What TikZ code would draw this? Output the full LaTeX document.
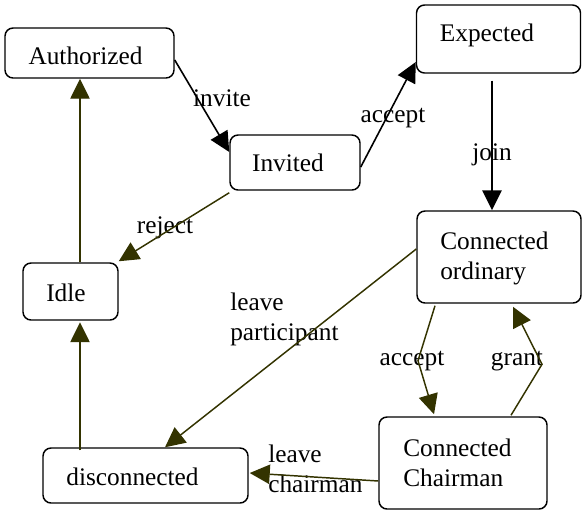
\documentclass[tikz,border=0pt]{standalone}
\usepackage{fontspec}
\setmainfont{Liberation Serif}
\usetikzlibrary{arrows.meta,calc}
\definecolor{darkolive}{RGB}{51,51,0}
\begin{document}
\begin{tikzpicture}[x=0.75pt,y=-0.75pt,
  state/.style={draw, line width=1.1pt, rounded corners=6pt, inner sep=0pt},
  lbl/.style={inner sep=0pt, font=\fontsize{19}{22.5}\selectfont},
  mlbl/.style={lbl, align=left, anchor=west},
  blk/.style={draw=black, line width=1.2pt, -{Triangle[length=15pt,width=14.5pt]}},
  olv/.style={draw=darkolive, line width=1.1pt, -{Triangle[length=15pt,width=14.5pt]}},
]
\useasboundingbox (0,0) rectangle (582,511);
% states
\node[state, minimum width=126.75pt, minimum height=37.5pt] (auth) at (89.5,53) {};
\node[state, minimum width=97.5pt, minimum height=41.25pt] (inv) at (295,162.5) {};
\node[state, minimum width=123pt, minimum height=51pt] (exp) at (498.5,39) {};
\node[state, minimum width=123pt, minimum height=69pt] (cord) at (499,257) {};
\node[state, minimum width=71.25pt, minimum height=42.75pt] (idle) at (70.5,291.5) {};
\node[state, minimum width=153.75pt, minimum height=41.25pt] (disc) at (145.5,475.5) {};
\node[state, minimum width=126pt, minimum height=69pt] (chair) at (463,463) {};
% state texts
\node[lbl] (tauth) at (85.5,56) {Authorized};
\node[lbl] (tinv) at (288,163) {Invited};
\node[lbl] (texp) at (487,35) {Expected};
\node[mlbl] (tcord) at (440,258) {Connected\\ordinary};
\node[lbl] (tidle) at (66,293) {Idle};
\node[lbl] (tdisc) at (132.5,477) {disconnected};
\node[mlbl] (tchair) at (403,463) {Connected\\Chairman};
% edge labels
\node[lbl] (linvite) at (222,98) {invite};
\node[lbl] (laccept1) at (393,118) {accept};
\node[lbl] (ljoin) at (492,155) {join};
\node[lbl] (lreject) at (165,228) {reject};
\node[mlbl] (lleavep) at (230,319) {leave\\participant};
\node[lbl] (laccept2) at (412,361) {accept};
\node[lbl] (lgrant) at (517,361) {grant};
\node[mlbl] (lleavec) at (268,469) {leave\\chairman};
% connectors
\draw[blk] ($(auth.east)+(0,7)$) -- ($(inv.west)+(0,-10.5)$);
\draw[blk] ($(inv.east)+(0,4.5)$) -- ($(exp.west)+(0,23)$);
\draw[blk] ($(exp.south)+(-6.5,7)$) -- ($(cord.north)+(-7,0)$);
\draw[olv] ($(inv.south west)+(0,2)$) -- ($(idle.north east)+(0,-1)$);
\draw[olv] ($(idle.north)+(9.5,0)$) -- ($(auth.south)+(-9.5,0)$);
\draw[olv] ($(disc.north)+(-65.5,3)$) -- ($(idle.south)+(9.5,1.5)$);
\draw[olv] ($(cord.west)+(0,-8)$) -- ($(disc.north)+(19.5,0)$);
\draw[olv] ($(cord.south)+(-64,2)$) -- ($(cord.south)+(-81,57)$) -- ($(chair.north)+(-29,-2)$);
\draw[olv] ($(chair.north)+(48,-1)$) -- ($(chair.north)+(79,-52)$) -- ($(cord.south)+(14,3)$);
\draw[olv] ($(chair.west)+(0,18)$) -- ($(disc.east)+(1,-2.5)$);
\end{tikzpicture}
\end{document}
